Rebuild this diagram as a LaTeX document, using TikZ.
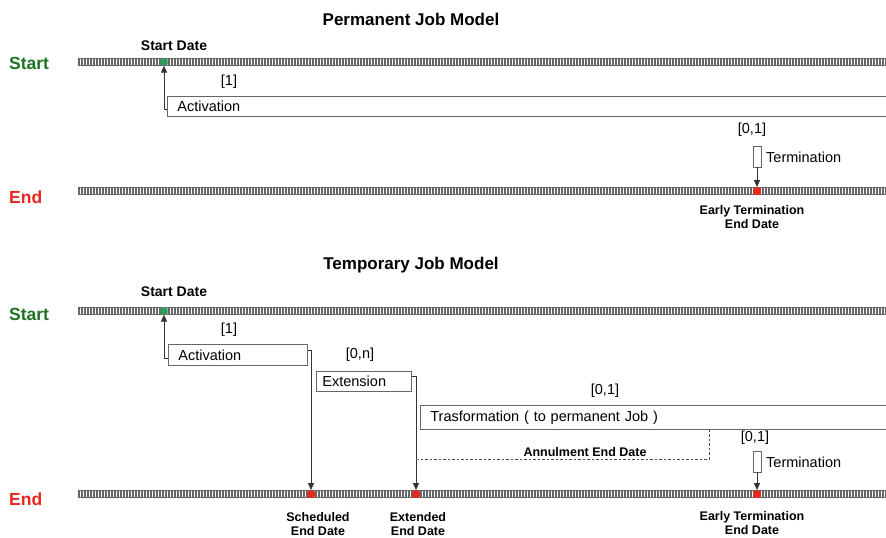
\documentclass[tikz,border=0pt]{standalone}
\usepackage{fontspec}
\setmainfont{Liberation Sans}
\usetikzlibrary{arrows.meta}
\definecolor{sgreen}{RGB}{30,115,35}
\definecolor{ered}{RGB}{232,40,30}
\definecolor{dotgreen}{RGB}{40,160,90}
\begin{document}
\begin{tikzpicture}[x=1pt,y=-1pt,
  bar/.style={draw=black!60, fill=white, minimum height=7pt, inner sep=0, anchor=west, line width=0.6pt,
     path picture={\draw[black!60, line width=7pt, dash pattern=on 1.3pt off 1.7pt] (path picture bounding box.west) -- (path picture bounding box.east);}},
  title/.style={font=\fontsize{17}{20}\selectfont\bfseries},
  sidelbl/.style={font=\fontsize{17.5}{20}\selectfont\bfseries, anchor=west, inner sep=0},
  datelbl/.style={font=\fontsize{12.5}{14}\selectfont\bfseries, align=center, inner sep=0},
  sdlbl/.style={font=\fontsize{14}{16}\selectfont\bfseries, inner sep=0},
  txt/.style={font=\fontsize{14.5}{16}\selectfont, inner sep=0},
  boxx/.style={draw=black!60, line width=0.8pt, anchor=north west, inner ysep=0, align=left, font=\fontsize{14.5}{16}\selectfont},
  openbox/.style={boxx, draw=none},
  boxline/.style={draw=black!60, line width=0.8pt},
  conn/.style={black!80, line width=0.8pt, -{Triangle[length=7pt,width=6pt]}},
  gdot/.style={fill=dotgreen, draw=black!50, line width=0.3pt, minimum size=7pt, inner sep=0, rounded corners=1.5pt},
  rdot/.style={fill=ered, minimum size=7.5pt, inner sep=0, rounded corners=1.5pt},
  termbox/.style={draw=black!60, line width=0.8pt, minimum width=8pt, minimum height=21pt, inner sep=0},
]
\useasboundingbox[fill=white] (0,0) rectangle (886,538);

% ---------- Permanent Job Model ----------
\node[title] (t1) at (411,19) {Permanent Job Model};
\node[sidelbl, text=sgreen] (s1) at (9,63) {Start};
\node[sidelbl, text=ered] (e1) at (9,197) {End};
\node[bar, minimum width=812pt] (bar1) at (78,62) {};
\node[bar, minimum width=812pt] (bar2) at (78,191) {};
\node[gdot] (sd1) at (164,62) {};
\node[rdot] (et1) at (757,191) {};
\node[sdlbl] (sdl1) at (174,46) {Start Date};
\node[txt] (m1) at (229,82) {[1]};
\node[openbox, text width=699pt, inner xsep=10pt, minimum height=20pt] (act1) at (167,96) {Activation};
\draw[boxline] (act1.north east) -- (act1.north west) -- (act1.south west) -- (act1.south east);
\draw[conn] ([yshift=-3pt]act1.west) -| (sd1.south);
\node[txt] (m2) at (752,130) {[0,1]};
\node[termbox] (tb1) at (757,156.5) {};
\node[txt, anchor=west] (tl1) at (766,157) {Termination};
\draw[conn] (tb1.south) -- (et1.north);
\node[datelbl] (etl1) at (752,217) {Early Termination\\End Date};

% ---------- Temporary Job Model ----------
\node[title] (t2) at (411,265) {Temporary Job Model};
\node[sidelbl, text=sgreen] (s2) at (9,314) {Start};
\node[sidelbl, text=ered] (e2) at (9,499) {End};
\node[bar, minimum width=812pt] (bar3) at (78,311) {};
\node[bar, minimum width=812pt] (bar4) at (78,494) {};
\node[gdot] (sd2) at (164,311) {};
\node[rdot] (sch) at (311,494) {};
\node[rdot] (extd) at (416,494) {};
\node[rdot] (et2) at (757,494) {};
\node[sdlbl] (sdl2) at (174,292) {Start Date};
\node[txt] (m3) at (229,330) {[1]};
\node[boxx, text width=119pt, inner xsep=10pt, minimum height=21pt] (act2) at (168,344) {Activation};
\draw[conn] ([yshift=-3pt]act2.west) -| (sd2.south);
\draw[conn] ([yshift=5pt]act2.east) -| (sch.north);
\node[txt] (m4) at (360,355) {[0,n]};
\node[boxx, text width=83pt, inner xsep=6pt, minimum height=20pt] (ext) at (316,371) {Extension};
\draw[conn] ([yshift=5pt]ext.east) -| (extd.north);
\node[txt] (m5) at (605,391) {[0,1]};
\node[openbox, text width=446pt, inner xsep=10pt, minimum height=24pt] (trans) at (420,405) {Trasformation ( to permanent Job )};
\draw[boxline] (trans.north east) -- (trans.north west) -- (trans.south west) -- (trans.south east);
\coordinate (annc) at (709,459);
\coordinate (annend) at (418,459);
\draw[black!70, line width=0.8pt, dash pattern=on 2.5pt off 2pt] (trans.south -| annc) -- (annc) -- (annend);
\node[datelbl] (annl) at (585,452) {Annulment End Date};
\node[txt] (m6) at (755,438) {[0,1]};
\node[termbox] (tb2) at (757,461.5) {};
\node[txt, anchor=west] (tl2) at (766,462) {Termination};
\draw[conn] (tb2.south) -- (et2.north);
\node[datelbl] (schl) at (318,524) {Scheduled\\End Date};
\node[datelbl] (extl) at (418,524) {Extended\\End Date};
\node[datelbl] (etl2) at (752,523) {Early Termination\\End Date};
\end{tikzpicture}
\end{document}
